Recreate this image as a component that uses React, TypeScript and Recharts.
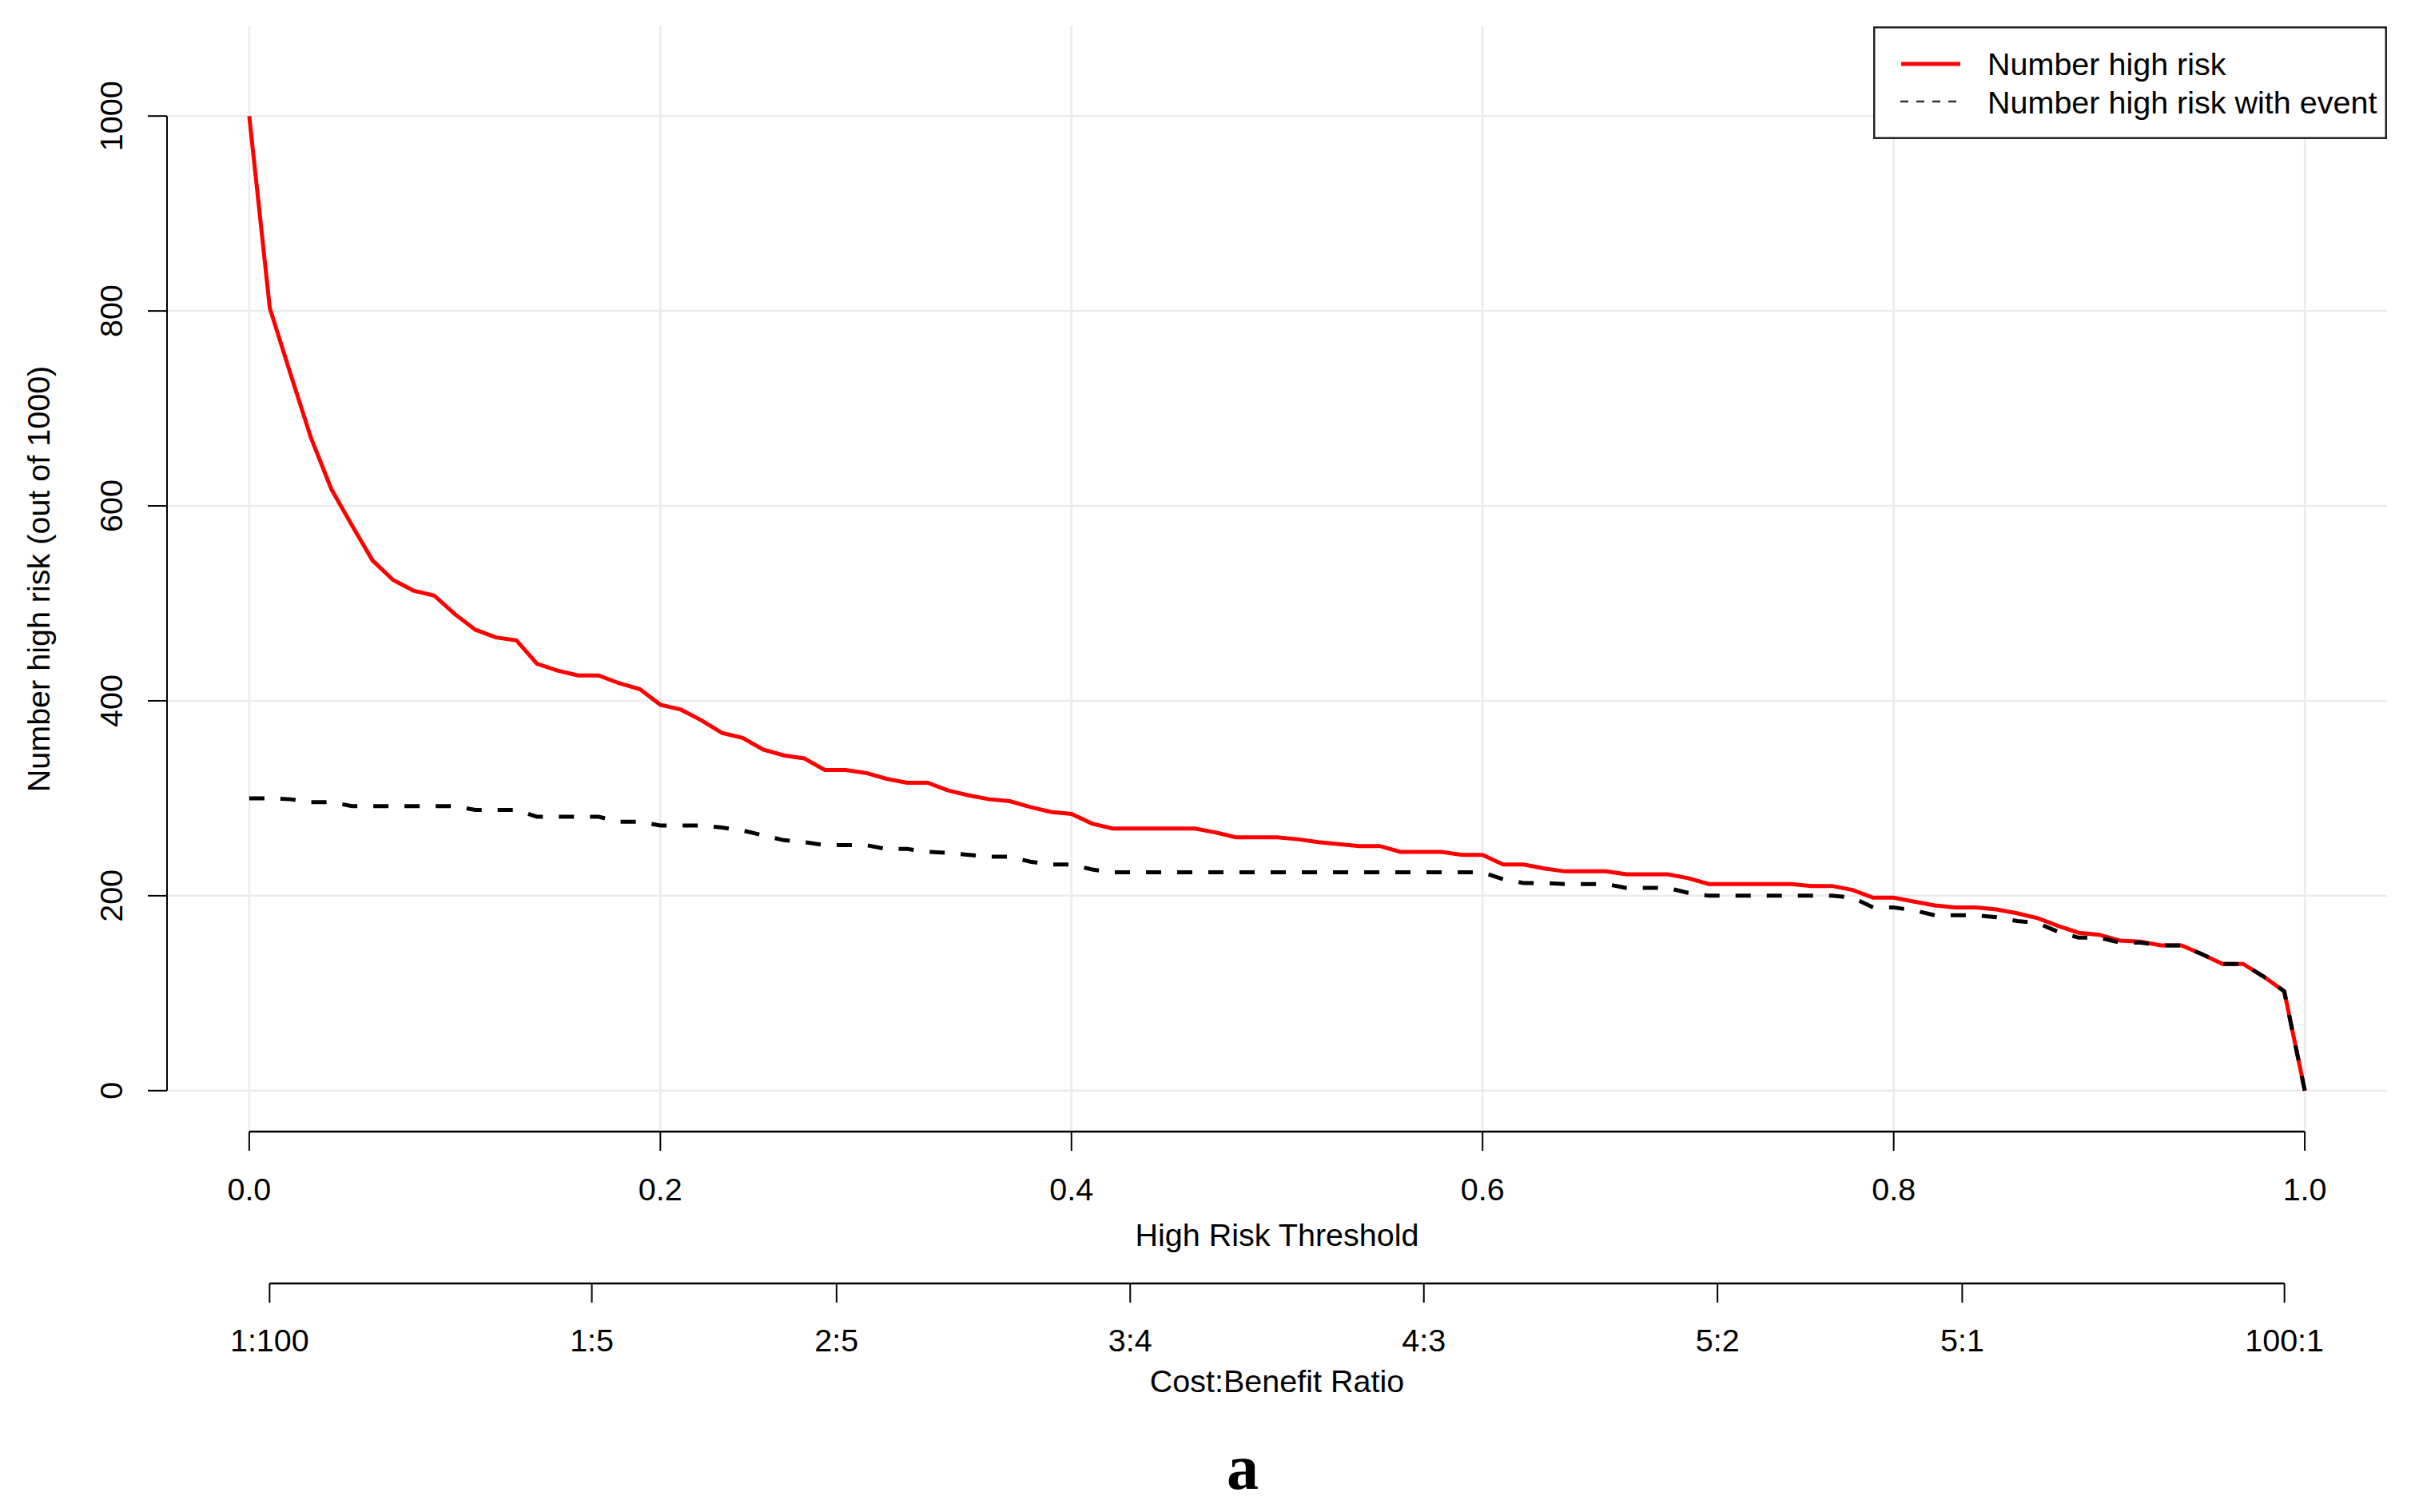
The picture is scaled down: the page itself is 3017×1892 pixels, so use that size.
import React from "react";
import {
  LineChart,
  Line,
  XAxis,
  YAxis,
  CartesianGrid,
  ReferenceLine,
  Legend,
} from "recharts";

// threshold grid (x categories)
const thresholds = [
  0, 0.01, 0.02, 0.03, 0.04, 0.05, 0.06, 0.07, 0.08, 0.09,
  0.1, 0.11, 0.12, 0.13, 0.14, 0.15, 0.16, 0.17, 0.18, 0.19,
  0.2, 0.21, 0.22, 0.23, 0.24, 0.25, 0.26, 0.27, 0.28, 0.29,
  0.3, 0.31, 0.32, 0.33, 0.34, 0.35, 0.36, 0.37, 0.38, 0.39,
  0.4, 0.41, 0.42, 0.43, 0.44, 0.45, 0.46, 0.47, 0.48, 0.49,
  0.5, 0.51, 0.52, 0.53, 0.54, 0.55, 0.56, 0.57, 0.58, 0.59,
  0.6, 0.61, 0.62, 0.63, 0.64, 0.65, 0.66, 0.67, 0.68, 0.69,
  0.7, 0.71, 0.72, 0.73, 0.74, 0.75, 0.76, 0.77, 0.78, 0.79,
  0.8, 0.81, 0.82, 0.83, 0.84, 0.85, 0.86, 0.87, 0.88, 0.89,
  0.9, 0.91, 0.92, 0.93, 0.94, 0.95, 0.96, 0.97, 0.98, 0.99,
  1,
];

const highRisk = [
  1000, 803, 736, 670, 617, 580, 544, 524, 513, 508,
  489, 473, 465, 462, 438, 431, 426, 426, 418, 412,
  396, 391, 380, 367, 362, 350, 344, 341, 329, 329,
  326, 320, 316, 316, 308, 303, 299, 297, 291, 286,
  284, 274, 269, 269, 269, 269, 269, 265, 260, 260,
  260, 258, 255, 253, 251, 251, 245, 245, 245, 242,
  242, 232, 232, 228, 225, 225, 225, 222, 222, 222,
  218, 212, 212, 212, 212, 212, 210, 210, 206, 198,
  198, 194, 190, 188, 188, 186, 182, 177, 169, 162,
  160, 154, 153, 149, 149, 140, 130, 130, 117, 102,
  0,
];

const highRiskEvent = [
  300, 300, 299, 296, 296, 292, 292, 292, 292, 292,
  292, 288, 288, 288, 281, 281, 281, 281, 276, 276,
  272, 272, 272, 270, 267, 262, 257, 255, 252, 252,
  252, 248, 248, 245, 244, 242, 240, 240, 235, 232,
  232, 227, 224, 224, 224, 224, 224, 224, 224, 224,
  224, 224, 224, 224, 224, 224, 224, 224, 224, 224,
  224, 217, 213, 213, 212, 212, 212, 208, 208, 208,
  203, 200, 200, 200, 200, 200, 200, 200, 198, 188,
  188, 185, 180, 180, 180, 178, 174, 172, 163, 157,
  157, 152, 152, 149, 149, 140, 130, 130, 117, 102,
  0,
];

const xTicks = [0, 0.2, 0.4, 0.6, 0.8, 1];
const yTicks = [0, 200, 400, 600, 800, 1000];
// cost:benefit pairs, placed at threshold = cost / (cost + benefit)
const costBenefit = [
  [1, 100],
  [1, 5],
  [2, 5],
  [3, 4],
  [4, 3],
  [5, 2],
  [5, 1],
  [100, 1],
];

const seriesNames = ["Number high risk", "Number high risk with event"];

const data = thresholds.map((t, i) => ({
  t,
  risk: highRisk[i],
  event: highRiskEvent[i],
}));

const cbTicks = costBenefit.map(([c, b]) => c / (c + b));
const cbLabels = costBenefit.map(([c, b]) => `${c}:${b}`);

const W = 3017;
const H = 1892;
const FONT = "'Liberation Sans', Arial, Helvetica, sans-serif";
const FS = 39.5;
const PLOT_TOP = 33;
const X1_H = 190;
const X2_H = 200;
const BOTTOM = 86;
const PLOT_BOTTOM = H - BOTTOM - X1_H - X2_H;
const Y_MIN = -42;
const Y_MAX = 1092;
// second axis sits X1_H px under the plot, expressed in y units
const CB_AXIS_Y =
  Y_MIN - (X1_H * (Y_MAX - Y_MIN)) / (PLOT_BOTTOM - PLOT_TOP);

const YTick = (props: any) => {
  const { x, y, payload } = props;
  const bx = x - 32;
  return (
    <text
      x={bx}
      y={y}
      transform={`rotate(-90, ${bx}, ${y})`}
      textAnchor="middle"
      fontSize={FS}
      fontFamily={FONT}
      fill="#000"
    >
      {payload.value}
    </text>
  );
};

const XTick = (props: any) => {
  const { x, y, payload } = props;
  return (
    <text x={x} y={y + 62} textAnchor="middle" fontSize={FS} fontFamily={FONT} fill="#000">
      {Number(payload.value).toFixed(1)}
    </text>
  );
};

const CBTick = (props: any) => {
  const { x, y, index } = props;
  return (
    <text x={x} y={y + 61} textAnchor="middle" fontSize={FS} fontFamily={FONT} fill="#000">
      {cbLabels[index]}
    </text>
  );
};

const YTitle = () => {
  const cy = (PLOT_TOP + PLOT_BOTTOM) / 2;
  return (
    <text
      x={62}
      y={cy}
      transform={`rotate(-90, 62, ${cy})`}
      textAnchor="middle"
      fontSize={FS}
      fontFamily={FONT}
      fill="#000"
    >
      Number high risk (out of 1000)
    </text>
  );
};

const LegendBox = () => (
  <svg width={643} height={141} style={{ display: "block" }}>
    <rect x={1.25} y={1.25} width={640.5} height={138.5} fill="#fff" stroke="#222" strokeWidth={2.5} />
    <line x1={35} x2={109} y1={47} y2={47} stroke="#ff0000" strokeWidth={5} />
    <line x1={34} x2={106} y1={94} y2={94} stroke="#333" strokeWidth={2.5} strokeDasharray="10 10" />
    <text x={143} y={61} fontSize={FS} fontFamily={FONT} fill="#000">
      {seriesNames[0]}
    </text>
    <text x={143} y={108.5} fontSize={FS} fontFamily={FONT} fill="#000">
      {seriesNames[1]}
    </text>
  </svg>
);

export default function App() {
  return (
    <div style={{ position: "absolute", left: 0, top: 0, width: W, height: H, background: "#fff" }}>
      <LineChart
        width={W}
        height={H}
        data={data}
        margin={{ top: PLOT_TOP, right: 30, bottom: BOTTOM, left: 0 }}
        style={{ fontFamily: FONT }}
      >
        <CartesianGrid stroke="#ebebeb" strokeWidth={2.5} syncWithTicks />
        <XAxis
          dataKey="t"
          type="number"
          domain={[-0.04, 1.04]}
          ticks={xTicks}
          allowDataOverflow
          axisLine={false}
          tickLine={{ stroke: "#000", strokeWidth: 2 }}
          tickSize={24}
          tickMargin={0}
          height={X1_H}
          tick={<XTick />}
          interval={0}
          label={{
            value: "High Risk Threshold",
            position: "insideBottom",
            offset: 47,
            fill: "#000",
            fontSize: FS,
            fontFamily: FONT,
          }}
        />
        <XAxis
          xAxisId="cb"
          dataKey="t"
          type="number"
          domain={[-0.04, 1.04]}
          ticks={cbTicks}
          allowDataOverflow
          axisLine={false}
          tickLine={{ stroke: "#000", strokeWidth: 2 }}
          tickSize={24}
          tickMargin={0}
          height={X2_H}
          tick={<CBTick />}
          interval={0}
          label={{
            value: "Cost:Benefit Ratio",
            position: "insideBottom",
            offset: 64,
            fill: "#000",
            fontSize: FS,
            fontFamily: FONT,
          }}
        />
        <YAxis
          type="number"
          domain={[Y_MIN, Y_MAX]}
          ticks={yTicks}
          allowDataOverflow
          width={209}
          axisLine={false}
          tickLine={{ stroke: "#000", strokeWidth: 2 }}
          tickSize={24}
          tickMargin={0}
          tick={<YTick />}
          interval={0}
          label={<YTitle />}
        />
        <ReferenceLine
          segment={[
            { x: -0.04, y: 0 },
            { x: -0.04, y: 1000 },
          ]}
          stroke="#000"
          strokeWidth={2}
          ifOverflow="visible"
        />
        <ReferenceLine
          segment={[
            { x: 0, y: Y_MIN },
            { x: 1, y: Y_MIN },
          ]}
          stroke="#000"
          strokeWidth={2.5}
          ifOverflow="visible"
        />
        <ReferenceLine
          xAxisId="cb"
          segment={[
            { x: cbTicks[0], y: CB_AXIS_Y },
            { x: cbTicks[cbTicks.length - 1], y: CB_AXIS_Y },
          ]}
          stroke="#000"
          strokeWidth={2.5}
          ifOverflow="visible"
        />
        <Line
          type="linear"
          dataKey="risk"
          name={seriesNames[0]}
          stroke="#ff0000"
          strokeWidth={5}
          dot={false}
          isAnimationActive={false}
        />
        <Line
          type="linear"
          dataKey="event"
          name={seriesNames[1]}
          stroke="#000"
          strokeWidth={5}
          strokeDasharray="19 20"
          dot={false}
          isAnimationActive={false}
        />
        <Legend
          layout="vertical"
          align="center"
          verticalAlign="middle"
          wrapperStyle={{ left: 2344, top: 33, width: 643, height: 141 }}
          content={<LegendBox />}
        />
      </LineChart>
      <svg
        width={W}
        height={H}
        style={{ position: "absolute", left: 0, top: 0, pointerEvents: "none" }}
      >
        <text
          x={1555}
          y={1863}
          textAnchor="middle"
          fontSize={80}
          fontWeight="bold"
          fontFamily="'Liberation Serif', 'Times New Roman', serif"
          fill="#000"
        >
          a
        </text>
      </svg>
    </div>
  );
}
